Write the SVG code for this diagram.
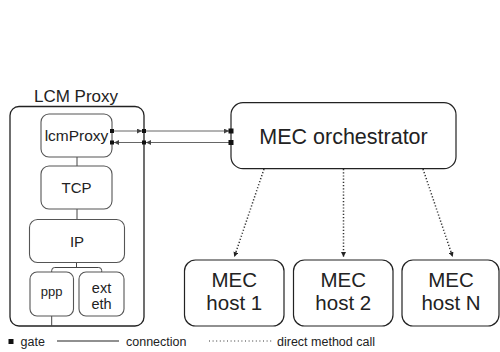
<svg xmlns="http://www.w3.org/2000/svg" width="500" height="352" viewBox="0 0 500 352">
<defs>
<style>
text{font-family:"Liberation Sans",Arial,sans-serif;fill:#222;text-anchor:middle}
.outer{fill:#fff;stroke:#222;stroke-width:1.3}
.mod{fill:#fff;stroke:#555;stroke-width:1.1}
.big{fill:#fff;stroke:#222;stroke-width:1.2}
.wire{fill:none;stroke:#444;stroke-width:1}
.conn{fill:none;stroke:#555;stroke-width:0.9}
.dot{fill:none;stroke:#333;stroke-width:1.5;stroke-dasharray:1.2 2}
.gate{fill:#111}
.lg{font-size:12.5px;text-anchor:start}
.host{font-size:20.5px}
</style>
<marker id="ah" viewBox="0 0 6 6" refX="6" refY="3" markerWidth="5" markerHeight="5" orient="auto" markerUnits="userSpaceOnUse">
<path d="M0,0 L6,3 L0,6 Z" fill="#444"/>
</marker>
<marker id="ahd" viewBox="0 0 6 6" refX="6" refY="3" markerWidth="5" markerHeight="5" orient="auto" markerUnits="userSpaceOnUse">
<path d="M0,0 L6,3 L0,6 Z" fill="#222"/>
</marker>
</defs>
<rect width="500" height="352" fill="#fff"/>

<g id="lcm-proxy-compound">
<text x="76" y="102" style="font-size:17px">LCM Proxy</text>
<rect class="outer" x="10" y="106.5" width="134" height="219.5" rx="9"/>
</g>

<g id="connectors">
<line class="wire" x1="77" y1="157" x2="77" y2="166"/>
<line class="wire" x1="77" y1="209" x2="77" y2="219.5"/>
<line class="wire" x1="76.5" y1="262.5" x2="76.5" y2="267.5"/>
<path class="wire" d="M51.7 272 V270.5 Q51.7 267.5 54.7 267.5 H98.7 Q101.7 267.5 101.7 270.5 V272"/>
<line class="wire" x1="51.7" y1="316" x2="51.7" y2="326"/>
<line class="conn" x1="112" y1="131" x2="142" y2="131" marker-end="url(#ah)"/>
<line class="conn" x1="144" y1="131" x2="229" y2="131" marker-end="url(#ah)"/>
<line class="conn" x1="231" y1="142.5" x2="146" y2="142.5" marker-end="url(#ah)"/>
<line class="conn" x1="144" y1="142.5" x2="114" y2="142.5" marker-end="url(#ah)"/>
<line class="dot" x1="264" y1="169" x2="234.3" y2="257" marker-end="url(#ahd)"/>
<line class="dot" x1="343.5" y1="169" x2="343.5" y2="257" marker-end="url(#ahd)"/>
<line class="dot" x1="423" y1="169" x2="452.7" y2="257" marker-end="url(#ahd)"/>
</g>

<g id="lcmProxy">
<rect class="mod" x="41" y="114" width="71" height="43" rx="8"/>
<text x="76.5" y="141" style="font-size:15.5px">lcmProxy</text>
</g>
<g id="tcp">
<rect class="mod" x="41" y="166" width="71" height="43" rx="8"/>
<text x="76.5" y="193" style="font-size:15px">TCP</text>
</g>
<g id="ip">
<rect class="mod" x="29.5" y="219.5" width="95" height="43" rx="8"/>
<text x="77" y="246.5" style="font-size:15px">IP</text>
</g>
<g id="ppp">
<rect class="mod" x="30" y="272" width="43.5" height="44" rx="7"/>
<text x="51.7" y="296" style="font-size:13px">ppp</text>
</g>
<g id="ext-eth">
<rect class="mod" x="79" y="272" width="45" height="44" rx="7"/>
<text x="101.5" y="292.5" style="font-size:14.5px">ext</text>
<text x="101.5" y="308.5" style="font-size:14.5px">eth</text>
</g>

<g id="gates">
<rect class="gate" x="110" y="129" width="4" height="4"/>
<rect class="gate" x="110" y="140.5" width="4" height="4"/>
<rect class="gate" x="142" y="129" width="4" height="4"/>
<rect class="gate" x="142" y="140.5" width="4" height="4"/>
</g>

<g id="mec-orchestrator">
<rect class="big" x="231" y="102.7" width="225" height="66" rx="12"/>
<rect class="gate" x="228.5" y="128.5" width="5" height="5"/>
<rect class="gate" x="228.5" y="140" width="5" height="5"/>
<text x="343.5" y="143.5" style="font-size:21.5px">MEC orchestrator</text>
</g>

<g id="mec-host-1">
<rect class="big" x="184.5" y="260" width="99.5" height="66" rx="11"/>
<text class="host" x="234.3" y="286.5">MEC</text>
<text class="host" x="234.3" y="309.5">host 1</text>
</g>
<g id="mec-host-2">
<rect class="big" x="293.5" y="260" width="99.5" height="66" rx="11"/>
<text class="host" x="343.3" y="286.5">MEC</text>
<text class="host" x="343.3" y="309.5">host 2</text>
</g>
<g id="mec-host-n">
<rect class="big" x="402" y="260" width="97" height="66" rx="11"/>
<text class="host" x="451" y="286.5">MEC</text>
<text class="host" x="451" y="309.5">host N</text>
</g>

<g id="legend">
<rect class="gate" x="8.5" y="339" width="5" height="5"/>
<text class="lg" x="20.5" y="346">gate</text>
<line x1="57" y1="341" x2="119" y2="341" stroke="#222" stroke-width="1.1"/>
<text class="lg" x="126" y="346">connection</text>
<line x1="209" y1="341" x2="273" y2="341" stroke="#333" stroke-width="1" stroke-dasharray="1 2.6"/>
<text class="lg" x="277" y="346">direct method call</text>
</g>
</svg>
